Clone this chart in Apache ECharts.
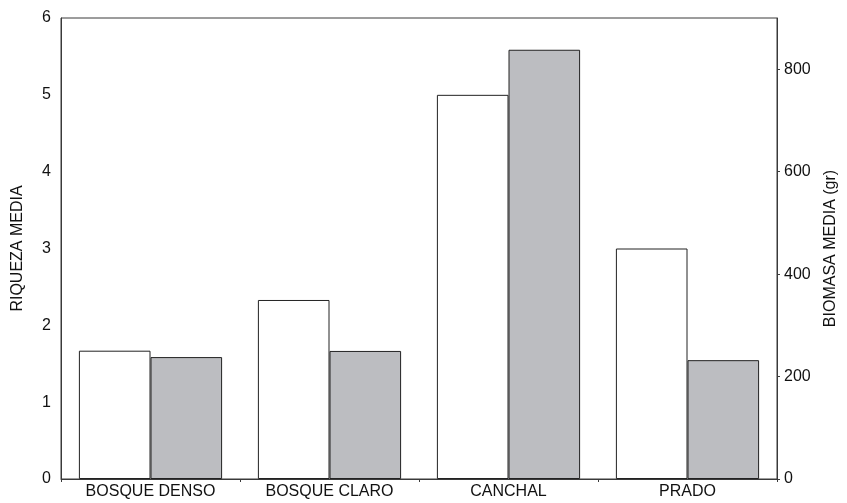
<!DOCTYPE html>
<html>
<head>
<meta charset="utf-8">
<script src="https://cdn.jsdelivr.net/npm/echarts@6/dist/echarts.min.js"></script>
<style>
  html, body { margin: 0; padding: 0; background: #fff; }
  #chart { width: 847px; height: 503px; }
</style>
</head>
<body>
<div id="chart"></div>
<script>
// Habitat categories
const habitats = ['BOSQUE DENSO', 'BOSQUE CLARO', 'CANCHAL', 'PRADO'];
// Mean richness (left axis)
const riquezaMedia = [1.67, 2.33, 5.0, 3.0];
// Mean biomass in grams (right axis)
const biomasaMedia = [238, 250, 838, 232];
// Axis ranges and labelled ticks
const riquezaRange = { min: 0, max: 6, interval: 1 };
const biomasaRange = { min: 0, max: 900, interval: 200 };
const biomasaTickValues = [0, 200, 400, 600, 800];

const FONT = '"Liberation Sans", Arial, sans-serif';
const AXIS = '#3a3a3a';

const chart = echarts.init(document.getElementById('chart'), null, { renderer: 'canvas' });
chart.setOption({
  animation: false,
  backgroundColor: '#ffffff',
  textStyle: { fontFamily: FONT, color: '#111' },
  grid: {
    left: 61, right: 70, top: 18, bottom: 24,
    outerBoundsMode: 'none',
    containLabel: false,
    show: true, borderColor: AXIS, borderWidth: 1, backgroundColor: 'transparent'
  },
  xAxis: {
    type: 'category',
    data: habitats,
    axisLine: { show: true, lineStyle: { color: AXIS, width: 1 } },
    axisTick: { show: true, length: 3, inside: false, lineStyle: { color: AXIS } },
    axisLabel: { fontFamily: FONT, fontSize: 16, color: '#111', margin: 5 },
    splitLine: { show: false }
  },
  yAxis: [
    {
      type: 'value',
      min: riquezaRange.min, max: riquezaRange.max, interval: riquezaRange.interval,
      name: 'RIQUEZA MEDIA',
      nameLocation: 'middle', nameRotate: 90, nameGap: 35,
      nameTextStyle: { fontFamily: FONT, fontSize: 16, color: '#111' },
      axisLine: { show: true, lineStyle: { color: AXIS } },
      axisTick: { show: false },
      axisLabel: { fontFamily: FONT, fontSize: 16, color: '#111', margin: 10 },
      splitLine: { show: false }
    },
    {
      type: 'value',
      position: 'right',
      min: biomasaRange.min, max: biomasaRange.max, interval: biomasaRange.interval,
      name: 'BIOMASA MEDIA (gr)',
      nameLocation: 'middle', nameRotate: 90, nameGap: 46,
      nameTextStyle: { fontFamily: FONT, fontSize: 16, color: '#111' },
      axisLine: { show: true, lineStyle: { color: AXIS } },
      axisTick: { show: true, length: 3, lineStyle: { color: AXIS }, customValues: biomasaTickValues },
      axisLabel: { fontFamily: FONT, fontSize: 16, color: '#111', margin: 7, customValues: biomasaTickValues },
      splitLine: { show: false }
    }
  ],
  series: [
    {
      name: 'RIQUEZA MEDIA',
      type: 'bar',
      yAxisIndex: 0,
      data: riquezaMedia,
      barGap: '0%',
      barCategoryGap: '20%',
      itemStyle: { color: '#ffffff', borderColor: '#222', borderWidth: 1 }
    },
    {
      name: 'BIOMASA MEDIA (gr)',
      type: 'bar',
      yAxisIndex: 1,
      data: biomasaMedia,
      barGap: '0%',
      barCategoryGap: '20%',
      itemStyle: { color: '#bcbdc1', borderColor: '#222', borderWidth: 1 }
    }
  ]
});
</script>
</body>
</html>
